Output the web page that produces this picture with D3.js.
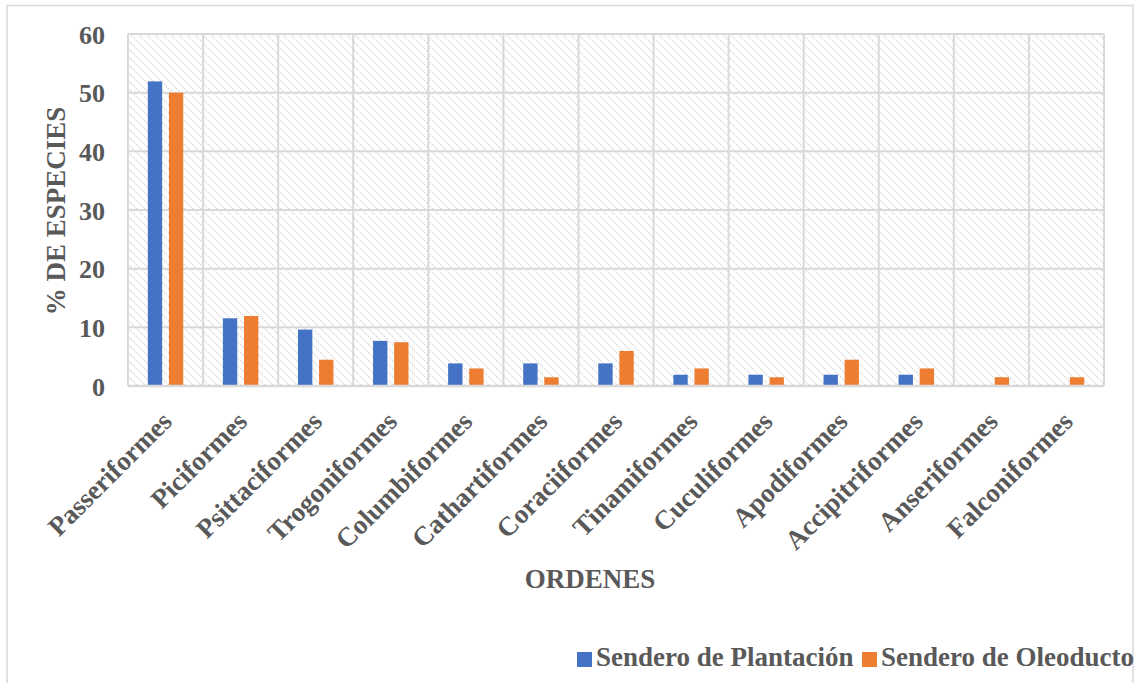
<!DOCTYPE html>
<html>
<head>
<meta charset="utf-8">
<script src="https://cdn.jsdelivr.net/npm/d3@7"></script>
<style>
  html, body { margin: 0; padding: 0; background: #ffffff; }
  svg { display: block; font-family: "Liberation Serif", "Times New Roman", serif; }
</style>
</head>
<body>
<svg id="chart" width="1135" height="683"></svg>
<script>
// Bird orders and the share of species (%) recorded on each trail
const categories = ["Passeriformes", "Piciformes", "Psittaciformes", "Trogoniformes",
  "Columbiformes", "Cathartiformes", "Coraciiformes", "Tinamiformes", "Cuculiformes",
  "Apodiformes", "Accipitriformes", "Anseriformes", "Falconiformes"];
const seriesNames = ["Sendero de Plantación", "Sendero de Oleoducto"];
const plantacion = [51.92, 11.54, 9.62, 7.69, 3.85, 3.85, 3.85, 1.92, 1.92, 1.92, 1.92, 0, 0];
const oleoducto  = [50.00, 11.94, 4.48, 7.46, 2.99, 1.49, 5.97, 2.99, 1.49, 4.48, 2.99, 1.49, 1.49];
const yTicks = [0, 10, 20, 30, 40, 50, 60];
const colors = ["#4472c4", "#ed7d31"];

const svg = d3.select("#chart");
const textColor = "#595959";
const gridColor = "#d9d9d9";
const labelSize = 27;

// chart frame
svg.append("rect")
  .attr("x", 7).attr("y", 5.5).attr("width", 1126).attr("height", 700)
  .attr("fill", "#ffffff").attr("stroke", gridColor).attr("stroke-width", 1.5);

// diagonal hatch used as plot background
const defs = svg.append("defs");
const pat = defs.append("pattern")
  .attr("id", "hatch").attr("patternUnits", "userSpaceOnUse")
  .attr("width", 8).attr("height", 8);
pat.append("rect").attr("width", 8).attr("height", 8).attr("fill", "#ffffff");
pat.append("path")
  .attr("d", "M0,0 L8,8 M-4,4 L4,12 M4,-4 L12,4")
  .attr("stroke", "#d6d6d6").attr("stroke-width", 1.3).attr("stroke-dasharray", "1.5,1.3");

const plot = { left: 128, top: 34, right: 1104, bottom: 386 };

const x = d3.scaleBand().domain(categories).range([plot.left, plot.right]).padding(0);
const x1 = d3.scaleBand().domain(seriesNames).range([0, x.bandwidth()]).paddingInner(0.32).paddingOuter(0.94);
const y = d3.scaleLinear().domain([0, 60]).range([plot.bottom, plot.top]);

svg.append("rect")
  .attr("x", plot.left).attr("y", plot.top)
  .attr("width", plot.right - plot.left).attr("height", plot.bottom - plot.top)
  .attr("fill", "url(#hatch)");

// horizontal gridlines
svg.append("g").selectAll("line").data(yTicks).join("line")
  .attr("x1", plot.left).attr("x2", plot.right)
  .attr("y1", d => y(d)).attr("y2", d => y(d))
  .attr("stroke", gridColor).attr("stroke-width", 2);

// vertical gridlines at category boundaries
const bounds = categories.map(c => x(c)).concat([plot.right]);
svg.append("g").selectAll("line").data(bounds).join("line")
  .attr("x1", d => d).attr("x2", d => d)
  .attr("y1", plot.top).attr("y2", plot.bottom)
  .attr("stroke", gridColor).attr("stroke-width", 2);

// bars
const series = [plantacion, oleoducto];
const gBars = svg.append("g");
series.forEach((vals, si) => {
  gBars.append("g").selectAll("rect").data(vals.map((v, i) => ({ c: categories[i], v })))
    .join("rect")
    .attr("x", d => x(d.c) + x1(seriesNames[si]))
    .attr("width", x1.bandwidth())
    .attr("y", d => y(d.v))
    .attr("height", d => y(0) - y(d.v))
    .attr("fill", colors[si]);
});

// baseline axis
svg.append("line")
  .attr("x1", plot.left).attr("x2", plot.right)
  .attr("y1", y(0)).attr("y2", y(0))
  .attr("stroke", gridColor).attr("stroke-width", 2.5);

// y axis labels
const yAxis = d3.axisLeft(y).tickValues(yTicks).tickSize(0).tickPadding(0);
const gy = svg.append("g").attr("transform", "translate(105,0)").call(yAxis);
gy.select(".domain").remove();
gy.selectAll("text")
  .attr("fill", textColor).attr("font-size", 26).attr("font-weight", "bold")
  .attr("font-family", "Liberation Serif, serif").attr("dy", "0.35em");

// x axis labels, rotated
const xAxis = d3.axisBottom(x).tickSize(0).tickPadding(0);
const gx = svg.append("g").call(xAxis);
gx.select(".domain").remove();
gx.selectAll(".tick").attr("transform", d => `translate(${x(d) + x.bandwidth() / 2 + 8},423)`);
gx.selectAll("text")
  .attr("fill", textColor).attr("font-size", labelSize).attr("font-weight", "bold")
  .attr("font-family", "Liberation Serif, serif")
  .attr("y", 0).attr("dy", 0)
  .attr("text-anchor", "end")
  .attr("transform", "rotate(-45)");

// axis titles
svg.append("text")
  .attr("transform", "translate(65,211) rotate(-90)")
  .attr("text-anchor", "middle")
  .attr("fill", textColor).attr("font-size", labelSize).attr("font-weight", "bold")
  .text("% DE ESPECIES");

svg.append("text")
  .attr("x", 590).attr("y", 588)
  .attr("text-anchor", "middle")
  .attr("fill", textColor).attr("font-size", labelSize).attr("font-weight", "bold")
  .text("ORDENES");

// legend
const legendItems = [
  { name: seriesNames[0], color: colors[0], x: 577 },
  { name: seriesNames[1], color: colors[1], x: 862 }
];
const lg = svg.append("g");
legendItems.forEach(it => {
  lg.append("rect").attr("x", it.x).attr("y", 652).attr("width", 15).attr("height", 15).attr("fill", it.color);
  lg.append("text").attr("x", it.x + 19).attr("y", 666)
    .attr("fill", textColor).attr("font-size", labelSize).attr("font-weight", "bold")
    .text(it.name);
});
</script>
</body>
</html>
